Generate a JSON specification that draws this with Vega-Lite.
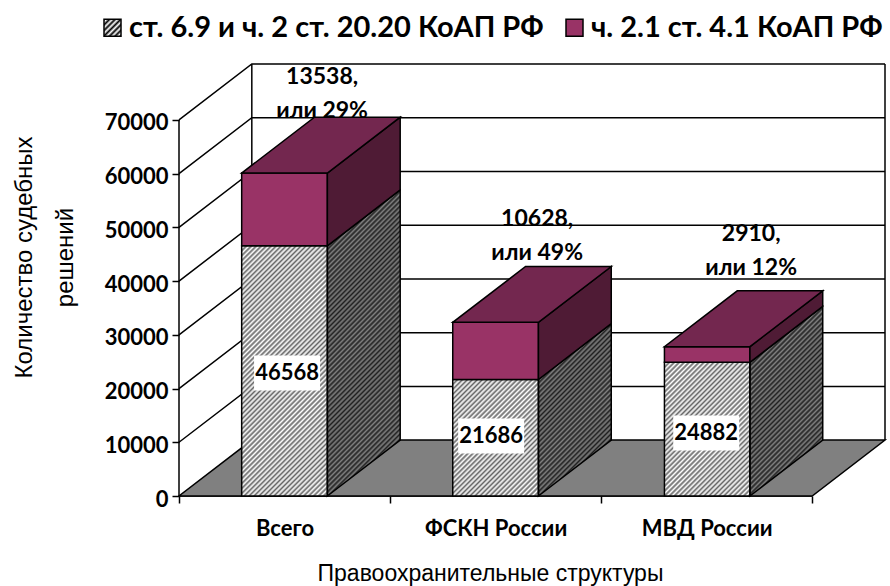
{"$schema":"https://vega.github.io/schema/vega-lite/v6.json","autosize":{"type":"none"},"width":706,"height":432,"padding":{"left":179,"top":64,"right":5,"bottom":90},"background":"white","config":{"view":{"stroke":null},"font":"Lato"},"params":[{"name":"hs","value":[{"offset":0,"color":"#000"},{"offset":0.005,"color":"#0000"},{"offset":0.01,"color":"#000"},{"offset":0.015,"color":"#0000"},{"offset":0.02,"color":"#000"},{"offset":0.025,"color":"#0000"},{"offset":0.03,"color":"#000"},{"offset":0.035,"color":"#0000"},{"offset":0.04,"color":"#000"},{"offset":0.045,"color":"#0000"},{"offset":0.05,"color":"#000"},{"offset":0.055,"color":"#0000"},{"offset":0.06,"color":"#000"},{"offset":0.065,"color":"#0000"},{"offset":0.07,"color":"#000"},{"offset":0.075,"color":"#0000"},{"offset":0.08,"color":"#000"},{"offset":0.085,"color":"#0000"},{"offset":0.09,"color":"#000"},{"offset":0.095,"color":"#0000"},{"offset":0.1,"color":"#000"},{"offset":0.105,"color":"#0000"},{"offset":0.11,"color":"#000"},{"offset":0.115,"color":"#0000"},{"offset":0.12,"color":"#000"},{"offset":0.125,"color":"#0000"},{"offset":0.13,"color":"#000"},{"offset":0.135,"color":"#0000"},{"offset":0.14,"color":"#000"},{"offset":0.145,"color":"#0000"},{"offset":0.15,"color":"#000"},{"offset":0.155,"color":"#0000"},{"offset":0.16,"color":"#000"},{"offset":0.165,"color":"#0000"},{"offset":0.17,"color":"#000"},{"offset":0.175,"color":"#0000"},{"offset":0.18,"color":"#000"},{"offset":0.185,"color":"#0000"},{"offset":0.19,"color":"#000"},{"offset":0.195,"color":"#0000"},{"offset":0.2,"color":"#000"},{"offset":0.205,"color":"#0000"},{"offset":0.21,"color":"#000"},{"offset":0.215,"color":"#0000"},{"offset":0.22,"color":"#000"},{"offset":0.225,"color":"#0000"},{"offset":0.23,"color":"#000"},{"offset":0.235,"color":"#0000"},{"offset":0.24,"color":"#000"},{"offset":0.245,"color":"#0000"},{"offset":0.25,"color":"#000"},{"offset":0.255,"color":"#0000"},{"offset":0.26,"color":"#000"},{"offset":0.265,"color":"#0000"},{"offset":0.27,"color":"#000"},{"offset":0.275,"color":"#0000"},{"offset":0.28,"color":"#000"},{"offset":0.285,"color":"#0000"},{"offset":0.29,"color":"#000"},{"offset":0.295,"color":"#0000"},{"offset":0.3,"color":"#000"},{"offset":0.305,"color":"#0000"},{"offset":0.31,"color":"#000"},{"offset":0.315,"color":"#0000"},{"offset":0.32,"color":"#000"},{"offset":0.325,"color":"#0000"},{"offset":0.33,"color":"#000"},{"offset":0.335,"color":"#0000"},{"offset":0.34,"color":"#000"},{"offset":0.345,"color":"#0000"},{"offset":0.35,"color":"#000"},{"offset":0.355,"color":"#0000"},{"offset":0.36,"color":"#000"},{"offset":0.365,"color":"#0000"},{"offset":0.37,"color":"#000"},{"offset":0.375,"color":"#0000"},{"offset":0.38,"color":"#000"},{"offset":0.385,"color":"#0000"},{"offset":0.39,"color":"#000"},{"offset":0.395,"color":"#0000"},{"offset":0.4,"color":"#000"},{"offset":0.405,"color":"#0000"},{"offset":0.41,"color":"#000"},{"offset":0.415,"color":"#0000"},{"offset":0.42,"color":"#000"},{"offset":0.425,"color":"#0000"},{"offset":0.43,"color":"#000"},{"offset":0.435,"color":"#0000"},{"offset":0.44,"color":"#000"},{"offset":0.445,"color":"#0000"},{"offset":0.45,"color":"#000"},{"offset":0.455,"color":"#0000"},{"offset":0.46,"color":"#000"},{"offset":0.465,"color":"#0000"},{"offset":0.47,"color":"#000"},{"offset":0.475,"color":"#0000"},{"offset":0.48,"color":"#000"},{"offset":0.485,"color":"#0000"},{"offset":0.49,"color":"#000"},{"offset":0.495,"color":"#0000"},{"offset":0.5,"color":"#000"},{"offset":0.505,"color":"#0000"},{"offset":0.51,"color":"#000"},{"offset":0.515,"color":"#0000"},{"offset":0.52,"color":"#000"},{"offset":0.525,"color":"#0000"},{"offset":0.53,"color":"#000"},{"offset":0.535,"color":"#0000"},{"offset":0.54,"color":"#000"},{"offset":0.545,"color":"#0000"},{"offset":0.55,"color":"#000"},{"offset":0.555,"color":"#0000"},{"offset":0.56,"color":"#000"},{"offset":0.565,"color":"#0000"},{"offset":0.57,"color":"#000"},{"offset":0.575,"color":"#0000"},{"offset":0.58,"color":"#000"},{"offset":0.585,"color":"#0000"},{"offset":0.59,"color":"#000"},{"offset":0.595,"color":"#0000"},{"offset":0.6,"color":"#000"},{"offset":0.605,"color":"#0000"},{"offset":0.61,"color":"#000"},{"offset":0.615,"color":"#0000"},{"offset":0.62,"color":"#000"},{"offset":0.625,"color":"#0000"},{"offset":0.63,"color":"#000"},{"offset":0.635,"color":"#0000"},{"offset":0.64,"color":"#000"},{"offset":0.645,"color":"#0000"},{"offset":0.65,"color":"#000"},{"offset":0.655,"color":"#0000"},{"offset":0.66,"color":"#000"},{"offset":0.665,"color":"#0000"},{"offset":0.67,"color":"#000"},{"offset":0.675,"color":"#0000"},{"offset":0.68,"color":"#000"},{"offset":0.685,"color":"#0000"},{"offset":0.69,"color":"#000"},{"offset":0.695,"color":"#0000"},{"offset":0.7,"color":"#000"},{"offset":0.705,"color":"#0000"},{"offset":0.71,"color":"#000"},{"offset":0.715,"color":"#0000"},{"offset":0.72,"color":"#000"},{"offset":0.725,"color":"#0000"},{"offset":0.73,"color":"#000"},{"offset":0.735,"color":"#0000"},{"offset":0.74,"color":"#000"},{"offset":0.745,"color":"#0000"},{"offset":0.75,"color":"#000"},{"offset":0.755,"color":"#0000"},{"offset":0.76,"color":"#000"},{"offset":0.765,"color":"#0000"},{"offset":0.77,"color":"#000"},{"offset":0.775,"color":"#0000"},{"offset":0.78,"color":"#000"}]}],"datasets":{"values":[{"bar":"Всего","series":"ст. 6.9 и ч. 2 ст. 20.20 КоАП РФ","value":46568,"text":"46568","lx":0.512,"ly":22900},{"bar":"Всего","series":"ч. 2.1 ст. 4.1 КоАП РФ","value":13538,"text":"13538,\nили 29%","lx":0.678,"ly":76700},{"bar":"ФСКН России","series":"ст. 6.9 и ч. 2 ст. 20.20 КоАП РФ","value":21686,"text":"21686","lx":1.479,"ly":11170},{"bar":"ФСКН России","series":"ч. 2.1 ст. 4.1 КоАП РФ","value":10628,"text":"10628,\nили 49%","lx":1.697,"ly":50300},{"bar":"МВД России","series":"ст. 6.9 и ч. 2 ст. 20.20 КоАП РФ","value":24882,"text":"24882","lx":2.498,"ly":11730},{"bar":"МВД России","series":"ч. 2.1 ст. 4.1 КоАП РФ","value":2910,"text":"2910,\nили 12%","lx":2.711,"ly":47480}],"lines":[{"id":"a","x":0,"y":0},{"id":"a","x":0,"y":70000},{"id":"b","x":0,"y":0},{"id":"b","x":3,"y":0},{"id":"c","x":0.345,"y":10400},{"id":"c","x":0.345,"y":80400},{"id":"d","x":3.345,"y":10400},{"id":"d","x":3.345,"y":80400},{"id":"g1","x":0,"y":10000},{"id":"g1","x":0.345,"y":20400},{"id":"g1","x":3.345,"y":20400},{"id":"g2","x":0,"y":20000},{"id":"g2","x":0.345,"y":30400},{"id":"g2","x":3.345,"y":30400},{"id":"g3","x":0,"y":30000},{"id":"g3","x":0.345,"y":40400},{"id":"g3","x":3.345,"y":40400},{"id":"g4","x":0,"y":40000},{"id":"g4","x":0.345,"y":50400},{"id":"g4","x":3.345,"y":50400},{"id":"g5","x":0,"y":50000},{"id":"g5","x":0.345,"y":60400},{"id":"g5","x":3.345,"y":60400},{"id":"g6","x":0,"y":60000},{"id":"g6","x":0.345,"y":70400},{"id":"g6","x":3.345,"y":70400},{"id":"g7","x":0,"y":70000},{"id":"g7","x":0.345,"y":80400},{"id":"g7","x":3.345,"y":80400}],"faces":[{"bar":"floor","part":"floor","x":0,"y":0,"y2":0},{"bar":"floor","part":"floor","x":0.345,"y":0,"y2":10400},{"bar":"floor","part":"floor","x":3,"y":0,"y2":10400},{"bar":"floor","part":"floor","x":3.345,"y":10400,"y2":10400},{"bar":"A","part":"lowerFront","x":0.297,"y":0,"y2":46568},{"bar":"A","part":"lowerFront","x":0.703,"y":0,"y2":46568},{"bar":"A","part":"lowerSide","x":0.703,"y":0,"y2":46568},{"bar":"A","part":"lowerSide","x":1.048,"y":10400,"y2":56968},{"bar":"A","part":"upperFront","x":0.297,"y":46568,"y2":60106},{"bar":"A","part":"upperFront","x":0.703,"y":46568,"y2":60106},{"bar":"A","part":"upperSide","x":0.703,"y":46568,"y2":60106},{"bar":"A","part":"upperSide","x":1.048,"y":56968,"y2":70506},{"bar":"A","part":"top","x":0.297,"y":60106,"y2":60106},{"bar":"A","part":"top","x":0.642,"y":60106,"y2":70506},{"bar":"A","part":"top","x":0.703,"y":60106,"y2":70506},{"bar":"A","part":"top","x":1.048,"y":70506,"y2":70506},{"bar":"B","part":"lowerFront","x":1.297,"y":0,"y2":21686},{"bar":"B","part":"lowerFront","x":1.703,"y":0,"y2":21686},{"bar":"B","part":"lowerSide","x":1.703,"y":0,"y2":21686},{"bar":"B","part":"lowerSide","x":2.048,"y":10400,"y2":32086},{"bar":"B","part":"upperFront","x":1.297,"y":21686,"y2":32314},{"bar":"B","part":"upperFront","x":1.703,"y":21686,"y2":32314},{"bar":"B","part":"upperSide","x":1.703,"y":21686,"y2":32314},{"bar":"B","part":"upperSide","x":2.048,"y":32086,"y2":42714},{"bar":"B","part":"top","x":1.297,"y":32314,"y2":32314},{"bar":"B","part":"top","x":1.642,"y":32314,"y2":42714},{"bar":"B","part":"top","x":1.703,"y":32314,"y2":42714},{"bar":"B","part":"top","x":2.048,"y":42714,"y2":42714},{"bar":"C","part":"lowerFront","x":2.3,"y":0,"y2":24882},{"bar":"C","part":"lowerFront","x":2.705,"y":0,"y2":24882},{"bar":"C","part":"lowerSide","x":2.705,"y":0,"y2":24882},{"bar":"C","part":"lowerSide","x":3.05,"y":10400,"y2":35282},{"bar":"C","part":"upperFront","x":2.3,"y":24882,"y2":27792},{"bar":"C","part":"upperFront","x":2.705,"y":24882,"y2":27792},{"bar":"C","part":"upperSide","x":2.705,"y":24882,"y2":27792},{"bar":"C","part":"upperSide","x":3.05,"y":35282,"y2":38192},{"bar":"C","part":"top","x":2.3,"y":27792,"y2":27792},{"bar":"C","part":"top","x":2.645,"y":27792,"y2":38192},{"bar":"C","part":"top","x":2.705,"y":27792,"y2":38192},{"bar":"C","part":"top","x":3.05,"y":38192,"y2":38192}]},"encoding":{"x":{"field":"x","type":"quantitative","scale":{"domain":[0,3.345],"nice":false,"zero":false},"axis":{"values":[0,0.5,1,1.5,2,2.5,3],"domain":false,"grid":false,"tickColor":"black","tickWidth":1.5,"tickSize":7,"tickOpacity":{"condition":{"test":"datum.value%1!=0","value":0},"value":1},"labelExpr":"datum.value==0.5?'Всего':datum.value==1.5?'ФСКН России':datum.value==2.5?'МВД России':''","labelFont":"Lato","labelFontWeight":"bold","labelFontSize":22,"labelColor":"black","labelPadding":15,"labelOverlap":false,"labelFlush":false,"title":"Правоохранительные   структуры","titleFont":"Liberation Sans","titleFontWeight":"normal","titleFontSize":23,"titleColor":"black","titleX":311,"titleY":77,"titleAlign":"center","titleBaseline":"middle","titleAnchor":"start"}},"y":{"field":"y","type":"quantitative","stack":null,"scale":{"domain":[0,80400],"nice":false,"zero":false},"axis":{"values":[0,10000,20000,30000,40000,50000,60000,70000],"domain":false,"grid":false,"tickColor":"black","tickWidth":1.5,"tickSize":7,"labelExpr":"''+datum.value","labelFont":"Lato","labelFontWeight":"bold","labelFontSize":22,"labelColor":"black","labelPadding":4,"labelOffset":3,"labelOverlap":false,"labelFlush":false,"title":["Количество судебных","решений"],"titleFont":"Liberation Sans","titleFontWeight":"normal","titleFontSize":24,"titleColor":"black","titleLineHeight":41,"titleAngle":-90,"titleX":-155,"titleY":193,"titleAlign":"center","titleAnchor":"start","titleBaseline":"middle"}}},"layer":[{"data":{"name":"lines"},"mark":{"type":"line","stroke":"black","strokeWidth":1.5},"encoding":{"detail":{"field":"id"}}},{"data":{"name":"values"},"transform":[{"filter":"indexof(datum.text,',')>0"}],"mark":{"type":"text","fontWeight":"bold","fontSize":23,"font":"Lato","lineBreak":"\n","lineHeight":34,"align":"center","baseline":"alphabetic","color":"black"},"encoding":{"x":{"field":"lx","type":"quantitative"},"y":{"field":"ly","type":"quantitative"},"text":{"field":"text"}}},{"data":{"name":"faces"},"transform":[{"filter":"datum.part=='floor'"}],"mark":{"type":"area","orient":"vertical","fill":"#808080","stroke":"black","strokeWidth":1.5},"encoding":{"y2":{"field":"y2"}}},{"data":{"name":"faces"},"transform":[{"filter":"datum.part=='lowerFront'"}],"mark":{"type":"area","orient":"vertical","fill":"white"},"encoding":{"y2":{"field":"y2"},"detail":{"field":"bar"}}},{"data":{"name":"faces"},"transform":[{"filter":"datum.part=='lowerSide'"}],"mark":{"type":"area","orient":"vertical","fill":"#808080"},"encoding":{"y2":{"field":"y2"},"detail":{"field":"bar"}}},{"data":{"name":"faces"},"transform":[{"filter":"datum.part=='lowerFront'&&datum.bar=='A'"}],"mark":{"type":"area","orient":"vertical","stroke":"black","strokeWidth":1.5,"fillOpacity":0.6,"fill":{"expr":"{gradient:'linear',x1:0,y1:0,x2:0.606,y2:1.773,stops:hs}"}},"encoding":{"y2":{"field":"y2"}}},{"data":{"name":"faces"},"transform":[{"filter":"datum.part=='lowerFront'&&datum.bar=='B'"}],"mark":{"type":"area","orient":"vertical","stroke":"black","strokeWidth":1.5,"fillOpacity":0.6,"fill":{"expr":"{gradient:'linear',x1:0,y1:0,x2:2.027,y2:2.762,stops:hs}"}},"encoding":{"y2":{"field":"y2"}}},{"data":{"name":"faces"},"transform":[{"filter":"datum.part=='lowerFront'&&datum.bar=='C'"}],"mark":{"type":"area","orient":"vertical","stroke":"black","strokeWidth":1.5,"fillOpacity":0.6,"fill":{"expr":"{gradient:'linear',x1:0,y1:0,x2:1.682,y2:2.628,stops:hs}"}},"encoding":{"y2":{"field":"y2"}}},{"data":{"name":"faces"},"transform":[{"filter":"datum.part=='lowerSide'&&datum.bar=='A'"}],"mark":{"type":"area","orient":"vertical","stroke":"black","strokeWidth":1.5,"fillOpacity":0.75,"fill":{"expr":"{gradient:'linear',x1:0,y1:0,x2:0.365,y2:1.531,stops:hs}"}},"encoding":{"y2":{"field":"y2"}}},{"data":{"name":"faces"},"transform":[{"filter":"datum.part=='lowerSide'&&datum.bar=='B'"}],"mark":{"type":"area","orient":"vertical","stroke":"black","strokeWidth":1.5,"fillOpacity":0.75,"fill":{"expr":"{gradient:'linear',x1:0,y1:0,x2:1.03,y2:2.434,stops:hs}"}},"encoding":{"y2":{"field":"y2"}}},{"data":{"name":"faces"},"transform":[{"filter":"datum.part=='lowerSide'&&datum.bar=='C'"}],"mark":{"type":"area","orient":"vertical","stroke":"black","strokeWidth":1.5,"fillOpacity":0.75,"fill":{"expr":"{gradient:'linear',x1:0,y1:0,x2:0.875,y2:2.274,stops:hs}"}},"encoding":{"y2":{"field":"y2"}}},{"data":{"name":"faces"},"transform":[{"filter":"datum.part=='upperFront'"}],"mark":{"type":"area","orient":"vertical","fill":"#993366","stroke":"black","strokeWidth":1.5},"encoding":{"y2":{"field":"y2"},"detail":{"field":"bar"}}},{"data":{"name":"faces"},"transform":[{"filter":"datum.part=='upperSide'"}],"mark":{"type":"area","orient":"vertical","fill":"#4f1b35","stroke":"black","strokeWidth":1.5},"encoding":{"y2":{"field":"y2"},"detail":{"field":"bar"}}},{"data":{"name":"faces"},"transform":[{"filter":"datum.part=='top'"}],"mark":{"type":"area","orient":"vertical","fill":"#73274f","stroke":"black","strokeWidth":1.5},"encoding":{"y2":{"field":"y2"},"detail":{"field":"bar"}}},{"data":{"name":"values"},"transform":[{"filter":"indexof(datum.text,',')<0"}],"mark":{"type":"point","filled":true,"fill":"white","opacity":1,"shape":"M-1,-0.53L1,-0.53L1,0.53L-1,0.53Z","size":4356},"encoding":{"x":{"field":"lx","type":"quantitative"},"y":{"field":"ly","type":"quantitative"}}},{"data":{"name":"values"},"transform":[{"filter":"indexof(datum.text,',')<0"}],"mark":{"type":"text","fontWeight":"bold","fontSize":22,"font":"Lato","align":"center","baseline":"middle","color":"black"},"encoding":{"x":{"field":"lx","type":"quantitative"},"y":{"field":"ly","type":"quantitative"},"text":{"field":"text"}}},{"data":{"name":"values"},"mark":{"type":"point","filled":true,"size":0,"opacity":1},"encoding":{"x":{"field":"lx","type":"quantitative"},"y":{"field":"ly","type":"quantitative"},"fill":{"field":"series","type":"nominal","scale":{"domain":["ст. 6.9 и ч. 2 ст. 20.20 КоАП РФ","ч. 2.1 ст. 4.1 КоАП РФ"],"range":[{"expr":"{gradient:'linear',x1:0,y1:0,x2:16.5,y2:16.5,stops:hs}"},"#993366"]},"legend":{"orient":"none","legendX":-81,"legendY":-51,"direction":"horizontal","columns":2,"title":null,"symbolType":"square","symbolSize":289,"symbolStrokeColor":"black","symbolStrokeWidth":1.5,"labelFont":"Lato","labelFontWeight":"bold","labelFontSize":29,"labelColor":"black","labelLimit":600,"labelOffset":2,"columnPadding":16}}}}]}
